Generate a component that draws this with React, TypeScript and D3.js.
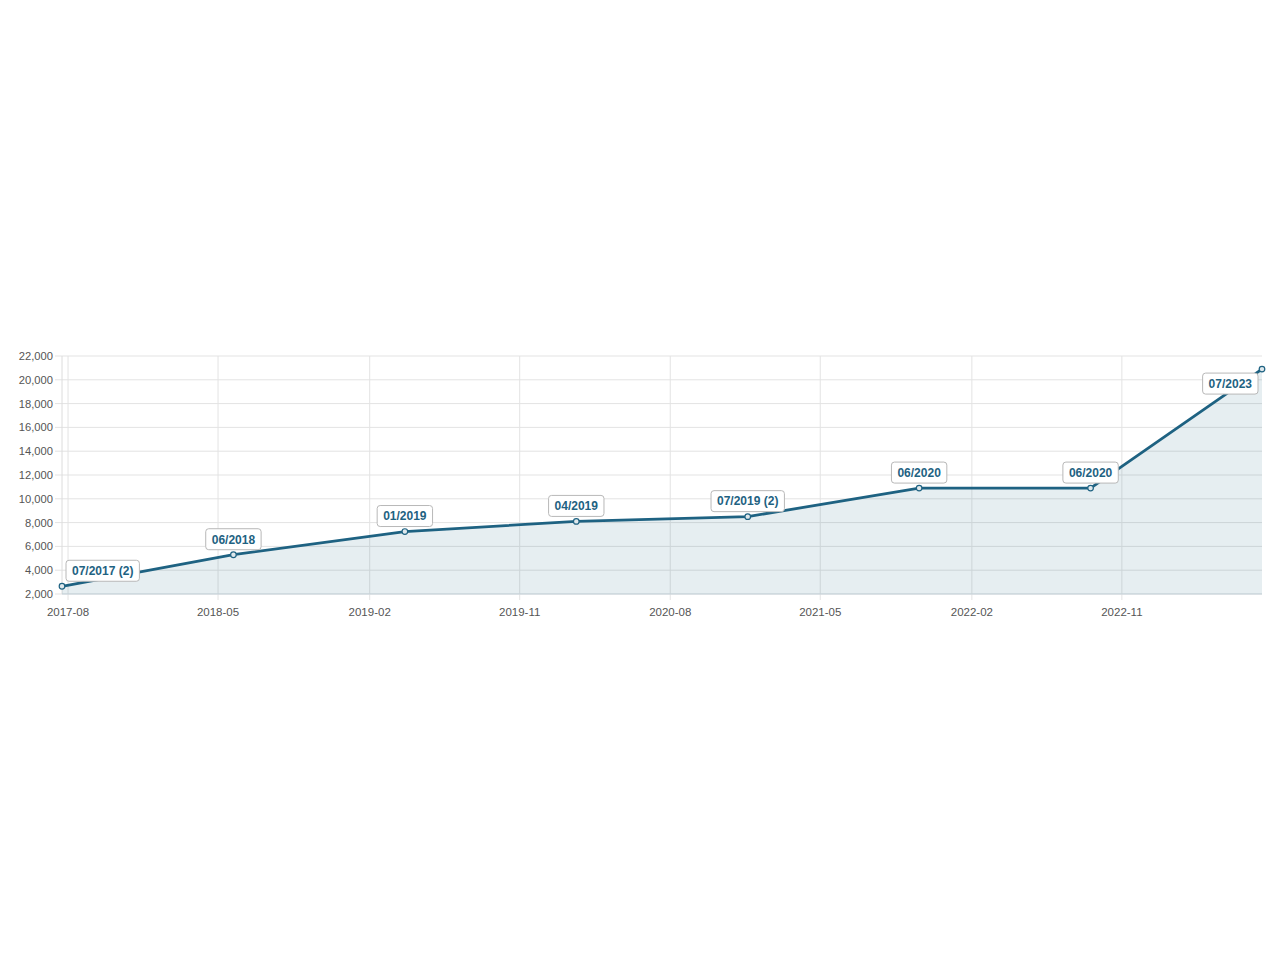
import React, { useEffect, useRef } from 'react';
import * as d3 from 'd3';

// release dates (x), cumulative values (y) and the label shown on each point
const pointDates = [
  '2017-07-21', '2018-05-29', '2019-04-06', '2020-02-12',
  '2020-12-20', '2021-10-28', '2022-09-05', '2023-07-14',
];
const pointValues = [2650, 5300, 7250, 8100, 8500, 10900, 10900, 20900];
const pointLabels = [
  '07/2017 (2)', '06/2018', '01/2019', '04/2019',
  '07/2019 (2)', '06/2020', '06/2020', '07/2023',
];
const xTickLabels = [
  '2017-08', '2018-05', '2019-02', '2019-11',
  '2020-08', '2021-05', '2022-02', '2022-11',
];
const yTicks = [2000, 4000, 6000, 8000, 10000, 12000, 14000, 16000, 18000, 20000, 22000];

const WIDTH = 1280;
const HEIGHT = 960;
const margin = { top: 356, right: 18, bottom: 366, left: 62 };
const FONT = '"Helvetica Neue", Helvetica, Arial, "Liberation Sans", sans-serif';
const LINE = '#1e6282';
const GRID = '#e3e3e3';

export default function App() {
  const svgRef = useRef<SVGSVGElement>(null);

  useEffect(() => {
    if (!svgRef.current) return;
    const svg = d3.select(svgRef.current);
    svg.selectAll('*').remove();

    const parseDay = d3.timeParse('%Y-%m-%d');
    const parseMonth = d3.timeParse('%Y-%m');
    const data = pointDates.map((d, i) => ({
      date: parseDay(d) as Date,
      value: pointValues[i],
      label: pointLabels[i],
    }));
    const ticks = xTickLabels.map((t) => parseMonth(t) as Date);

    const x0 = margin.left;
    const x1 = WIDTH - margin.right;
    const y0 = HEIGHT - margin.bottom;
    const y1 = margin.top;

    const xScale = d3
      .scaleTime()
      .domain([data[0].date, data[data.length - 1].date])
      .range([x0, x1]);
    const yScale = d3.scaleLinear().domain([2000, 22000]).range([y0, y1]);

    // horizontal grid + y labels
    const gy = svg.append('g');
    yTicks.forEach((t) => {
      const y = yScale(t);
      gy.append('line')
        .attr('x1', x0 - 7)
        .attr('x2', x1)
        .attr('y1', y)
        .attr('y2', y)
        .attr('stroke', GRID)
        .attr('stroke-width', 1);
      gy.append('text')
        .attr('x', x0 - 9)
        .attr('y', y)
        .attr('dy', '0.35em')
        .attr('text-anchor', 'end')
        .attr('font-family', FONT)
        .attr('font-size', 11.2)
        .attr('fill', '#555')
        .text(d3.format(',')(t));
    });

    // vertical grid + x labels
    const gx = svg.append('g');
    ticks.forEach((t, i) => {
      const x = xScale(t);
      gx.append('line')
        .attr('x1', x)
        .attr('x2', x)
        .attr('y1', y1)
        .attr('y2', y0 + 6)
        .attr('stroke', GRID)
        .attr('stroke-width', 1);
      gx.append('text')
        .attr('x', x)
        .attr('y', y0 + 18)
        .attr('dy', '0.35em')
        .attr('text-anchor', 'middle')
        .attr('font-family', FONT)
        .attr('font-size', 11.5)
        .attr('fill', '#555')
        .text(xTickLabels[i]);
    });

    // left axis line
    svg.append('line')
      .attr('x1', x0)
      .attr('x2', x0)
      .attr('y1', y1)
      .attr('y2', y0)
      .attr('stroke', '#dcdcdc');

    // area + line
    const area = d3
      .area<typeof data[number]>()
      .x((d) => xScale(d.date))
      .y0(y0)
      .y1((d) => yScale(d.value));
    const line = d3
      .line<typeof data[number]>()
      .x((d) => xScale(d.date))
      .y((d) => yScale(d.value));

    svg.append('path')
      .datum(data)
      .attr('d', area)
      .attr('fill', LINE)
      .attr('fill-opacity', 0.11);

    svg.append('line')
      .attr('x1', x0)
      .attr('x2', x1)
      .attr('y1', y0)
      .attr('y2', y0)
      .attr('stroke', '#c5d2da');

    svg.append('path')
      .datum(data)
      .attr('d', line)
      .attr('fill', 'none')
      .attr('stroke', LINE)
      .attr('stroke-width', 2.8)
      .attr('stroke-linejoin', 'round');

    svg.selectAll('circle.pt')
      .data(data)
      .enter()
      .append('circle')
      .attr('class', 'pt')
      .attr('cx', (d) => xScale(d.date))
      .attr('cy', (d) => yScale(d.value))
      .attr('r', 2.8)
      .attr('fill', '#dfe8ec')
      .attr('stroke', LINE)
      .attr('stroke-width', 1.2);

    // point labels
    const boxH = 21;
    const padX = 6;
    data.forEach((d) => {
      const px = xScale(d.date);
      const py = yScale(d.value);
      const g = svg.append('g');
      const rect = g.append('rect');
      const text = g
        .append('text')
        .attr('font-family', FONT)
        .attr('font-size', 12)
        .attr('font-weight', 'bold')
        .attr('fill', LINE)
        .attr('text-anchor', 'middle')
        .text(d.label);
      const tw = (text.node() as SVGTextElement).getComputedTextLength();
      const w = tw + padX * 2;
      let left = px - w / 2;
      left = Math.max(x0 + 4, Math.min(x1 - 4 - w, left));
      let top = py - 5 - boxH;
      if (top < y1) top = py + 4;
      rect
        .attr('x', left)
        .attr('y', top)
        .attr('width', w)
        .attr('height', boxH)
        .attr('rx', 3)
        .attr('fill', '#fff')
        .attr('stroke', '#b8b8b8')
        .attr('stroke-width', 1);
      text.attr('x', left + w / 2).attr('y', top + boxH / 2).attr('dy', '0.36em');
    });
  }, []);

  return (
    <svg
      ref={svgRef}
      width={WIDTH}
      height={HEIGHT}
      style={{ position: 'absolute', left: 0, top: 0, display: 'block' }}
      role="img"
      aria-label="Line chart"
    />
  );
}
